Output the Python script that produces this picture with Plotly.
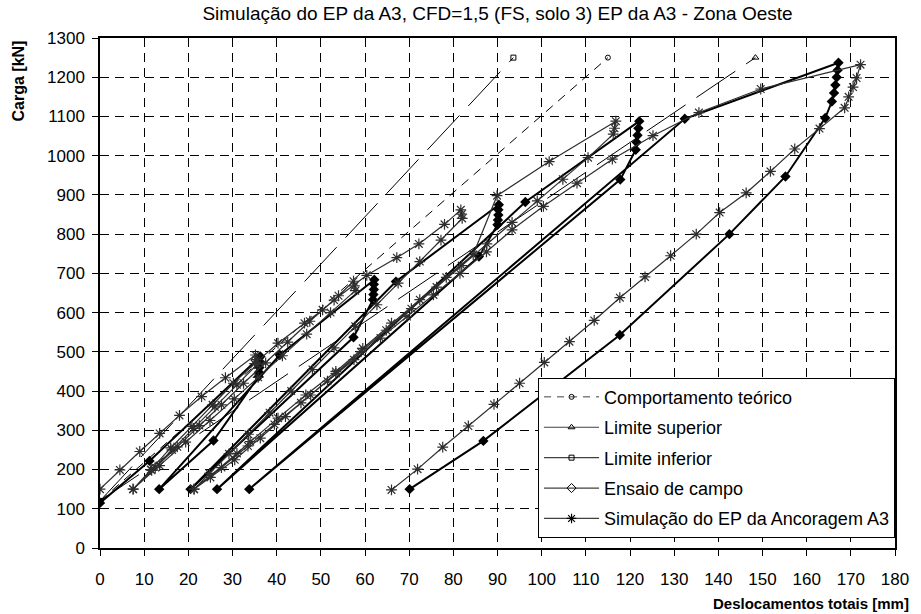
import plotly.graph_objects as go

# ---------------- data ----------------
teo_x = [0, 115.0]
teo_y = [120, 1250]
sup_x = [0, 148.4]
sup_y = [120, 1250]
inf_x = [0, 93.6]
inf_y = [120, 1250]

ens_x = [0, 11.2, 36.3, 36.2, 36.1, 36.0, 35.9, 25.7, 13.4,
         40.7, 62.1, 62.0, 62.0, 61.9, 61.8, 57.4, 20.5,
         67.0, 90.3, 90.2, 90.2, 90.1, 90.0, 85.8, 26.5,
         96.3, 122.1, 121.9, 121.7, 121.5, 121.3, 117.8, 33.8,
         132.4, 167.2, 167.0, 166.8, 166.5, 166.2, 165.7, 164.2, 155.2, 142.5, 117.7, 86.8, 70.1]
ens_y = [115, 222, 488, 474, 460, 448, 437, 274, 150,
         492, 684, 672, 659, 646, 633, 537, 150,
         679, 875, 862, 849, 836, 824, 743, 150,
         882, 1088, 1070, 1052, 1034, 1015, 939, 150,
         1094, 1237, 1218, 1200, 1180, 1160, 1138, 1096, 947, 800, 543, 273, 150]

sim_x = [0, 4.5, 9, 13.5, 18, 23, 28.4, 35.2, 35.4, 35.6,
         31, 26, 21.2, 16.3, 11.7, 7.5,
         11.5, 16, 20.8, 25.5, 30.2, 35, 40.3, 46.3, 50.4, 54, 57.4, 57.6, 57.8,
         52.2, 46.8, 41.3, 35.8, 30.4, 24.9, 19.4, 13.5, 7.5,
         12.5, 17.5, 22.5, 27.5, 32.5, 37.5, 42.5, 47.5, 53, 60.4, 67.2, 72.2, 78, 81.7, 81.9, 82,
         77.2, 72.4, 67.5, 62.7, 57.8, 53, 48.1, 43.3, 38.4, 33.6, 29.2, 24.8, 21.3,
         31, 34, 40.3, 46.6, 53.4, 59.5, 66, 72.4, 78.4, 84.5, 89.9, 101.7, 116.8, 116.5, 116.2,
         110.5, 104.8, 99, 93.3, 87.6, 81.9, 76.2, 70.5, 64.8, 59.1, 53.4, 47.7, 42, 36.3, 30.5, 25, 21.3,
         27.5, 33.5, 39.5, 45.5, 51.5, 57.5, 63.5, 69.5, 75.5, 81.5, 87.5, 93.3, 100.4, 108, 116, 125.2,
         135.6, 149.6, 172.2, 171.3, 170.5, 169.5, 168.6,
         162.9, 157.3, 151.8, 146.3, 140.3, 135, 129.2, 123.4, 117.7, 111.9, 106.3, 100.6, 95, 89.2,
         83.4, 77.6, 71.9, 66]
sim_y = [150, 199, 246, 292, 338, 386, 434, 492, 480, 468,
         416, 360, 305, 250, 198, 150,
         200, 255, 310, 365, 420, 470, 522, 573, 607, 643, 680, 668, 656,
         600, 545, 490, 435, 380, 325, 270, 210, 150,
         205, 258, 312, 365, 420, 472, 525, 578, 632, 695, 740, 775, 825, 862, 851, 840,
         785, 730, 675, 620, 565, 510, 455, 400, 345, 290, 240, 190, 150,
         241, 271, 331, 390, 450, 509, 573, 633, 690, 748, 898, 985, 1088, 1070, 1055,
         995, 940, 885, 830, 775, 720, 665, 610, 555, 500, 445, 390, 335, 280, 225, 180, 150,
         205, 260, 315, 370, 425, 480, 535, 590, 645, 700, 755, 811, 871, 930, 991, 1051,
         1110, 1170, 1232, 1198, 1175, 1150, 1122,
         1069, 1017, 960, 905, 855, 800, 745, 691, 638, 580, 526, 473, 420, 366,
         311, 257, 201, 148]

x_ticks = list(range(0, 181, 10))
y_ticks = list(range(0, 1301, 100))

names = ["Comportamento teórico", "Limite superior", "Limite inferior",
         "Ensaio de campo", "Simulação do EP da Ancoragem A3"]
title_text = "Simulação do EP da A3, CFD=1,5 (FS, solo 3) EP da A3 - Zona Oeste"

FONT = "Liberation Sans, Arial, sans-serif"
fig = go.Figure()

# theoretical / limits
fig.add_trace(go.Scatter(x=teo_x, y=teo_y, mode="lines+markers", showlegend=False,
                         line=dict(color="black", width=1, dash="9px,7px"),
                         marker=dict(symbol="circle-open", size=5, color="black", line=dict(width=1))))
fig.add_trace(go.Scatter(x=sup_x, y=sup_y, mode="lines+markers", showlegend=False,
                         line=dict(color="black", width=1, dash="47px,13px"),
                         marker=dict(symbol="triangle-up-open", size=6, color="black", line=dict(width=1))))
fig.add_trace(go.Scatter(x=inf_x, y=inf_y, mode="lines+markers", showlegend=False,
                         line=dict(color="black", width=1, dash="47px,13px"),
                         marker=dict(symbol="square-open", size=5, color="black", line=dict(width=1))))
# field test
fig.add_trace(go.Scatter(x=ens_x, y=ens_y, mode="lines+markers", showlegend=False,
                         line=dict(color="black", width=2),
                         marker=dict(symbol="diamond", size=8, color="black")))
# simulation
fig.add_trace(go.Scatter(x=sim_x, y=sim_y, mode="lines+markers", showlegend=False,
                         line=dict(color="#2e2e2e", width=1.2),
                         marker=dict(symbol="asterisk-open", size=9, color="#2e2e2e",
                                     line=dict(width=1.2, color="#2e2e2e"))))

# legend-only entries
leg_styles = [
    dict(line=dict(color="#404040", width=1, dash="7px,6px"),
         marker=dict(symbol="circle-open", size=5, color="black", line=dict(width=1))),
    dict(line=dict(color="#404040", width=1.2),
         marker=dict(symbol="triangle-up-open", size=6, color="black", line=dict(width=1))),
    dict(line=dict(color="#404040", width=1.2),
         marker=dict(symbol="square-open", size=5, color="black", line=dict(width=1))),
    dict(line=dict(color="#404040", width=1.2),
         marker=dict(symbol="diamond-open", size=7, color="black", line=dict(width=1))),
    dict(line=dict(color="#404040", width=1.2),
         marker=dict(symbol="asterisk-open", size=8, color="black", line=dict(width=1.2))),
]
for i, (nm, st) in enumerate(zip(names, leg_styles)):
    fig.add_trace(go.Scatter(x=[None], y=[None], mode="lines+markers", name=nm,
                             legendgroup=f"g{i}", **st))

fig.update_layout(
    width=921, height=614,
    margin=dict(l=100, r=17, t=38, b=66),
    paper_bgcolor="white", plot_bgcolor="white",
    font=dict(family=FONT, size=17, color="black"),
    title=dict(text=title_text, x=0.5, xref="paper", y=1 - 13 / 614, yref="container",
               xanchor="center", yanchor="middle", font=dict(size=19, family=FONT)),
    showlegend=True,
    legend=dict(x=0.551, y=0.334, xanchor="left", yanchor="top",
                bgcolor="white", bordercolor="black", borderwidth=1,
                font=dict(size=18, family=FONT), tracegroupgap=4,
                itemwidth=55),
    annotations=[
        dict(text="<b>Carga [kN]</b>", xref="paper", yref="paper",
             x=(18 - 100) / 804, y=(548 - 81) / 509.5, textangle=-90,
             showarrow=False, font=dict(size=16, family=FONT),
             xanchor="center", yanchor="middle"),
        dict(text="<b>Deslocamentos totais [mm]</b>", xref="paper", yref="paper",
             x=(920 - 100) / 804, y=-(603 - 548) / 509.5, showarrow=False,
             font=dict(size=15, family=FONT), xanchor="right", yanchor="middle"),
    ],
)
fig.update_xaxes(range=[0, 180], tickvals=x_ticks, ticktext=[str(v) for v in x_ticks],
                 showgrid=True, gridcolor="black", gridwidth=1, griddash="9px,6px",
                 showline=True, linecolor="black", linewidth=1.5, mirror=True,
                 ticks="outside", ticklen=6, tickcolor="black", zeroline=False,
                 ticklabelstandoff=9,
                 tickfont=dict(size=17, family=FONT))
fig.update_yaxes(range=[0, 1300], tickvals=y_ticks, ticktext=[str(v) for v in y_ticks],
                 showgrid=True, gridcolor="black", gridwidth=1, griddash="9px,6px",
                 showline=True, linecolor="black", linewidth=1.5, mirror=True,
                 ticks="outside", ticklen=6, tickcolor="black", zeroline=False,
                 ticklabelstandoff=4,
                 tickfont=dict(size=17, family=FONT))

fig.write_html("out.html")
